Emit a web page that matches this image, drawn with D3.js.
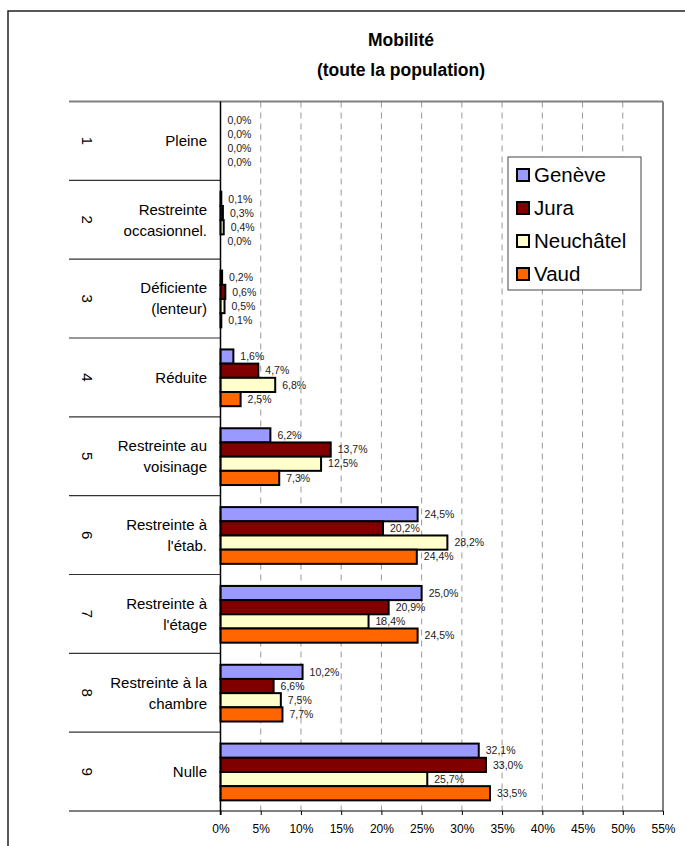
<!DOCTYPE html>
<html>
<head>
<meta charset="utf-8">
<script src="https://cdn.jsdelivr.net/npm/d3@7"></script>
<style>
  body { margin: 0; background: #fff; }
  svg { display: block; font-family: "Liberation Sans", Arial, sans-serif; }
</style>
</head>
<body>
<svg id="chart" width="685" height="846"></svg>
<script>
const categoryNums = ["1", "2", "3", "4", "5", "6", "7", "8", "9"];
const categoryNames = [
  ["Pleine"],
  ["Restreinte", "occasionnel."],
  ["Déficiente", "(lenteur)"],
  ["Réduite"],
  ["Restreinte au", "voisinage"],
  ["Restreinte à", "l'étab."],
  ["Restreinte à", "l'étage"],
  ["Restreinte à la", "chambre"],
  ["Nulle"]
];
const seriesNames = ["Genève", "Jura", "Neuchâtel", "Vaud"];
const seriesColors = ["#9999FF", "#800000", "#FFFFCC", "#FF6600"];
const geneve    = [0.0, 0.1, 0.2, 1.6, 6.2, 24.5, 25.0, 10.2, 32.1];
const jura      = [0.0, 0.3, 0.6, 4.7, 13.7, 20.2, 20.9, 6.6, 33.0];
const neuchatel = [0.0, 0.4, 0.5, 6.8, 12.5, 28.2, 18.4, 7.5, 25.7];
const vaud      = [0.0, 0.0, 0.1, 2.5, 7.3, 24.4, 24.5, 7.7, 33.5];
const xTicks = [0, 5, 10, 15, 20, 25, 30, 35, 40, 45, 50, 55];
const titleLines = ["Mobilité", "(toute la population)"];

const seriesValues = [geneve, jura, neuchatel, vaud];
const svg = d3.select("#chart");

// outer border (right and bottom edges run off the picture)
svg.append("rect").attr("x", 8).attr("y", 11).attr("width", 700).attr("height", 860)
  .attr("fill", "none").attr("stroke", "#222").attr("stroke-width", 1.5);

// title
svg.append("g").selectAll("text").data(titleLines).join("text")
  .attr("x", 401).attr("y", (d, i) => 46 + i * 30)
  .attr("text-anchor", "middle").attr("font-weight", "bold").attr("font-size", 17.5)
  .text(d => d);

const plotLeft = 220.5, plotRight = 663, plotTop = 101.5, plotBottom = 811;
const labelLeft = 69;

const x = d3.scaleLinear().domain([0, 55]).range([plotLeft, plotRight]);
const y0 = d3.scaleBand().domain(categoryNums).range([plotTop, plotBottom]).padding(0);
const bw = y0.bandwidth();
const y1 = d3.scaleBand().domain(seriesNames).range([bw * 0.145, bw * 0.865]).padding(0);

// gridlines
svg.append("g").selectAll("line").data(xTicks.filter(t => t > 0 && t < 55)).join("line")
  .attr("x1", d => x(d)).attr("x2", d => x(d))
  .attr("y1", plotTop).attr("y2", plotBottom)
  .attr("stroke", "#999").attr("stroke-width", 1).attr("stroke-dasharray", "6,5");

// top and right gray border of plot
svg.append("line").attr("x1", labelLeft).attr("x2", plotRight).attr("y1", plotTop).attr("y2", plotTop)
  .attr("stroke", "#808080").attr("stroke-width", 2);
svg.append("line").attr("x1", plotRight).attr("x2", plotRight).attr("y1", plotTop).attr("y2", plotBottom)
  .attr("stroke", "#808080").attr("stroke-width", 2);

// category boundaries in label area
svg.append("g").selectAll("line").data(categoryNums.slice(1)).join("line")
  .attr("x1", labelLeft).attr("x2", plotLeft)
  .attr("y1", d => y0(d)).attr("y2", d => y0(d))
  .attr("stroke", "#333").attr("stroke-width", 1.2);

// bars
const groups = svg.append("g").selectAll("g").data(categoryNums).join("g")
  .attr("transform", d => `translate(0,${y0(d)})`);
groups.each(function(cat, ci) {
  const g = d3.select(this);
  seriesNames.forEach((s, si) => {
    const v = seriesValues[si][ci];
    g.append("rect")
      .attr("x", x(0)).attr("y", y1(s))
      .attr("width", x(v) - x(0)).attr("height", y1.bandwidth())
      .attr("fill", seriesColors[si]).attr("stroke", "#000").attr("stroke-width", 2);
    g.append("text")
      .attr("x", x(v) + 7).attr("y", y1(s) + y1.bandwidth() / 2)
      .attr("dy", "0.35em").attr("font-size", 10.5).attr("fill", "#1a1a1a")
      .text(v.toFixed(1).replace(".", ",") + "%");
  });
});

// category labels
const catLabels = svg.append("g").selectAll("g").data(categoryNums).join("g")
  .attr("transform", d => `translate(0,${y0(d) + bw / 2})`);
catLabels.append("text")
  .attr("transform", "translate(87,0) rotate(90)")
  .attr("text-anchor", "middle").attr("dy", "0.35em").attr("font-size", 15)
  .text(d => d);
catLabels.each(function(d, i) {
  const lines = categoryNames[i];
  const n = lines.length;
  d3.select(this).selectAll("text.name").data(lines).join("text")
    .attr("class", "name")
    .attr("x", 207).attr("y", (l, j) => (j - (n - 1) / 2) * 21)
    .attr("dy", "0.35em").attr("text-anchor", "end").attr("font-size", 15)
    .text(l => l);
});

// axes
const xAxis = d3.axisBottom(x).tickValues(xTicks).tickSize(4).tickFormat(d => d + "%");
const xg = svg.append("g").attr("transform", `translate(0,${plotBottom})`).call(xAxis);
xg.select(".domain").remove();
xg.selectAll(".tick line").attr("stroke", "#000");
xg.selectAll(".tick text").attr("font-size", 12).attr("font-family", "Liberation Sans, Arial, sans-serif")
  .attr("y", 13).attr("fill", "#000");
svg.append("line").attr("x1", labelLeft).attr("x2", plotRight).attr("y1", plotBottom).attr("y2", plotBottom)
  .attr("stroke", "#000").attr("stroke-width", 1.2);
svg.append("line").attr("x1", plotLeft).attr("x2", plotLeft).attr("y1", plotTop).attr("y2", plotBottom + 4)
  .attr("stroke", "#000").attr("stroke-width", 1.5);

// legend
const legend = svg.append("g");
legend.append("rect").attr("x", 508).attr("y", 157).attr("width", 133).attr("height", 133)
  .attr("fill", "#fff").attr("stroke", "#444").attr("stroke-width", 1);
const li = legend.selectAll("g").data(seriesNames).join("g")
  .attr("transform", (d, i) => `translate(0,${175 + i * 33})`);
li.append("rect").attr("x", 517).attr("y", -6).attr("width", 12).attr("height", 12)
  .attr("fill", (d, i) => seriesColors[i]).attr("stroke", "#000").attr("stroke-width", 2);
li.append("text").attr("x", 534).attr("dy", "0.36em").attr("font-size", 20.5).text(d => d);
</script>
</body>
</html>
